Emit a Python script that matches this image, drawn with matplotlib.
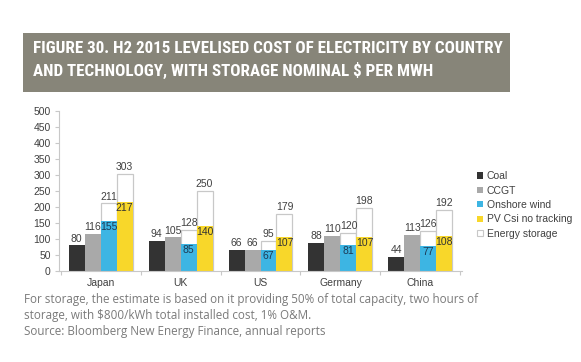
import numpy as np
import matplotlib
matplotlib.use('Agg')
import matplotlib.pyplot as plt
from matplotlib import font_manager
from matplotlib.patches import Rectangle, Patch

countries = ['Japan', 'UK', 'US', 'Germany', 'China']
coal = [80, 94, 66, 88, 44]
ccgt = [116, 105, 66, 110, 113]
wind = [155, 85, 67, 81, 77]
wind_total = [211, 128, 95, 120, 126]
pv = [217, 140, 107, 107, 108]
pv_total = [303, 250, 179, 198, 192]
legend_labels = ['Coal', 'CCGT', 'Onshore wind', 'PV Csi no tracking', 'Energy storage']

c_coal = '#333333'
c_ccgt = '#a9a9a9'
c_wind = '#3db5e3'
c_pv = '#f8d72a'
c_edge = '#c8c8c8'
c_txt = '#404040'

plt.rcParams['font.family'] = ['Liberation Sans', 'DejaVu Sans']

# condensed face for the title if one is installed
title_font = 'Open Sans'
for name in ['Liberation Sans Narrow', 'Roboto Condensed']:
    try:
        font_manager.findfont(name, fallback_to_default=False)
        title_font = name
        break
    except Exception:
        pass

fig = plt.figure(figsize=(5.81, 3.62), dpi=100)
W, H = 581.0, 362.0

# title box
fig.patches.append(Rectangle((23 / W, 1 - 92 / H), 487 / W, 59 / H,
                             transform=fig.transFigure, facecolor='#878579',
                             edgecolor='none', zorder=0))
title = fig.text(33 / W, 1 - 60 / H,
                 'FIGURE 30. H2 2015 LEVELISED COST OF ELECTRICITY BY COUNTRY\nAND TECHNOLOGY, WITH STORAGE NOMINAL $ PER MWH',
                 color='white', fontsize=11, fontweight='bold', va='center', ha='left',
                 linespacing=1.4, family=[title_font, 'DejaVu Sans'])
# fit the first line to the box, then set the gap between the lines (~23 px)
r = fig.canvas.get_renderer()
tw = title.get_window_extent(r).width
fsz = 11 * 467 / tw
title.set_fontsize(fsz)
title.set_linespacing(23 / (fsz * 100 / 72))

ax = fig.add_axes([59 / W, 1 - 271 / H, 403 / W, 160 / H])
x = np.arange(len(countries))
w = 0.2

ax.bar(x - 0.3, coal, w, color=c_coal, zorder=2)
ax.bar(x - 0.1, ccgt, w, color=c_ccgt, zorder=2)
ax.bar(x + 0.1, wind_total, w, color='white', edgecolor=c_edge, linewidth=0.9, zorder=1)
ax.bar(x + 0.1, wind, w, color=c_wind, zorder=2)
ax.bar(x + 0.3, pv_total, w, color='white', edgecolor=c_edge, linewidth=0.9, zorder=1)
ax.bar(x + 0.3, pv, w, color=c_pv, zorder=2)

fs = 7.5
for i in range(len(countries)):
    ax.text(x[i] - 0.3, coal[i] + 5, str(coal[i]), ha='center', va='bottom', fontsize=fs, color=c_txt)
    ax.text(x[i] - 0.1, ccgt[i] + 5, str(ccgt[i]), ha='center', va='bottom', fontsize=fs, color=c_txt)
    ax.text(x[i] + 0.1, wind_total[i] + 5, str(wind_total[i]), ha='center', va='bottom', fontsize=fs, color=c_txt)
    ax.text(x[i] + 0.3, pv_total[i] + 5, str(pv_total[i]), ha='center', va='bottom', fontsize=fs, color=c_txt)
    ax.text(x[i] + 0.1, wind[i] - 3, str(wind[i]), ha='center', va='top', fontsize=fs, color='#1c3a55')
    ax.text(x[i] + 0.3, pv[i] - 3, str(pv[i]), ha='center', va='top', fontsize=fs, color='#333333')

ax.set_xlim(-0.52, 4.52)
ax.set_ylim(0, 500)
ax.set_yticks(np.arange(0, 501, 50))
ax.set_xticks(x)
ax.set_xticklabels(countries)
ax.set_xticks(np.arange(-0.5, 5, 1), minor=True)
ax.tick_params(axis='y', labelsize=7.5, colors=c_edge, labelcolor=c_txt, length=3, width=0.8, pad=3)
ax.tick_params(axis='x', which='major', labelsize=7.5, labelcolor=c_txt, length=0, pad=5)
ax.tick_params(axis='x', which='minor', colors=c_edge, length=3, width=0.8)
for s in ['top', 'right']:
    ax.spines[s].set_visible(False)
for s in ['left', 'bottom']:
    ax.spines[s].set_color(c_edge)
    ax.spines[s].set_linewidth(0.8)

handles = [Patch(facecolor=c_coal), Patch(facecolor=c_ccgt), Patch(facecolor=c_wind),
           Patch(facecolor=c_pv), Patch(facecolor='white', edgecolor=c_edge, linewidth=0.8)]
fig.legend(handles, legend_labels, loc='upper left', bbox_to_anchor=(472 / W, 1 - 166 / H),
           frameon=False, fontsize=7.5, handlelength=0.55, handleheight=0.55,
           handletextpad=0.35, labelspacing=0.42, borderpad=0, labelcolor=c_txt)

note_font = ['Open Sans', 'DejaVu Sans']
fig.text(24 / W, 1 - 300 / H,
         'For storage, the estimate is based on it providing 50% of total capacity, two hours of',
         fontsize=8.4, color='#7a7a7a', va='center', ha='left', family=note_font)
fig.text(24 / W, 1 - 315 / H, 'storage, with $800/kWh total installed cost, 1% O&M.',
         fontsize=8.4, color='#7a7a7a', va='center', ha='left', family=note_font)
fig.text(24 / W, 1 - 331 / H, 'Source: Bloomberg New Energy Finance, annual reports',
         fontsize=8.4, color='#7a7a7a', va='center', ha='left', family=note_font)

fig.savefig('out.png', dpi=100, facecolor='white')
